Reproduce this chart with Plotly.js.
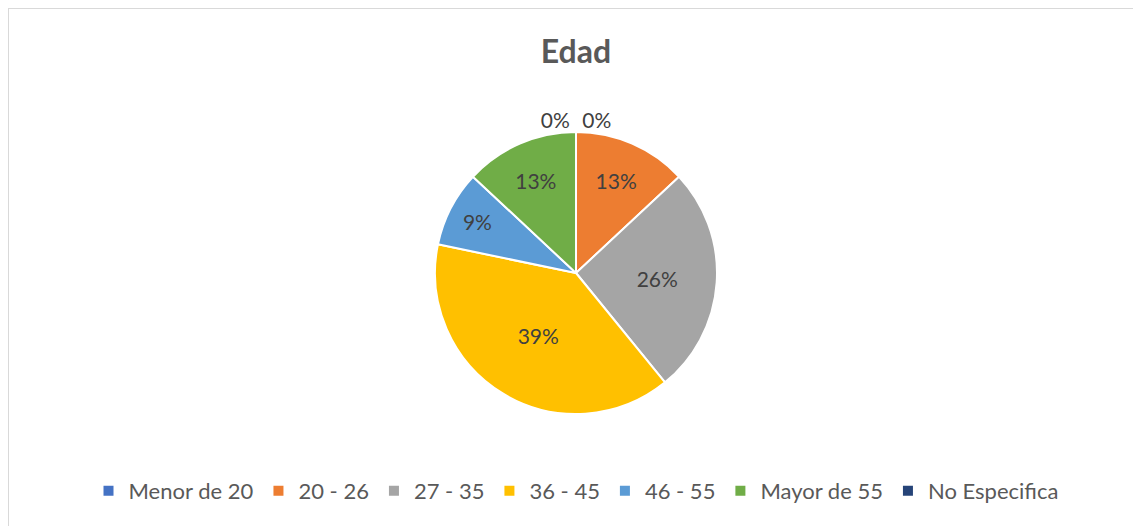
<!DOCTYPE html>
<html>
<head>
<meta charset="utf-8">
<script src="https://cdn.plot.ly/plotly-3.0.1.min.js"></script>
<style>
  html, body { margin: 0; padding: 0; background: #fff; }
  #wrap { position: relative; width: 1133px; height: 526px; overflow: hidden; }
  #chart { position: absolute; left: 0; top: 0; width: 1133px; height: 526px; }
  #frame { position: absolute; left: 8px; top: 8px; width: 1200px; height: 600px;
           border-left: 1.5px solid #d9d9d9; border-top: 1.5px solid #d9d9d9; pointer-events: none; }
</style>
</head>
<body>
<div id="wrap">
  <div id="chart"></div>
  <div id="frame"></div>
</div>
<script>
const categories = ["Menor de 20", "20 - 26", "27 - 35", "36 - 45", "46 - 55", "Mayor de 55", "No Especifica"];
const counts = [0, 3, 6, 9, 2, 3, 0];
const colors = ["#4472C4", "#ED7D31", "#A5A5A5", "#FFC000", "#5B9BD5", "#70AD47", "#264478"];
const chartTitle = "Edad";

const textPos = counts.map(v => v === 0 ? "outside" : "inside");

const trace = {
  type: "pie",
  labels: categories,
  values: counts,
  sort: false,
  direction: "clockwise",
  rotation: 0,
  marker: { colors: colors, line: { color: "#ffffff", width: 2 } },
  texttemplate: "%{percent:.0%}",
  textposition: textPos,
  insidetextorientation: "horizontal",
  textfont: { family: "Lato, sans-serif", size: 21, color: "#404040" },
  outsidetextfont: { family: "Lato, sans-serif", size: 21, color: "#404040" },
  hoverinfo: "label+percent",
  showlegend: true
};

const layout = {
  width: 1133,
  height: 526,
  margin: { l: 19, r: 0, t: 132, b: 112 },
  paper_bgcolor: "#ffffff",
  plot_bgcolor: "#ffffff",
  title: {
    text: "<b>" + chartTitle + "</b>",
    font: { family: "Lato, sans-serif", size: 32, color: "#595959" },
    x: 576 / 1133,
    xanchor: "center",
    y: 1 - 52 / 526,
    yanchor: "middle",
    xref: "container",
    yref: "container"
  },
  legend: {
    orientation: "h",
    x: 0.5,
    xanchor: "center",
    y: -0.273,
    yanchor: "middle",
    font: { family: "Lato, sans-serif", size: 22, color: "#595959" },
    traceorder: "normal",
    itemsizing: "constant"
  },
  showlegend: true
};

Plotly.newPlot("chart", [trace], layout, { displayModeBar: false, staticPlot: true });
</script>
</body>
</html>
